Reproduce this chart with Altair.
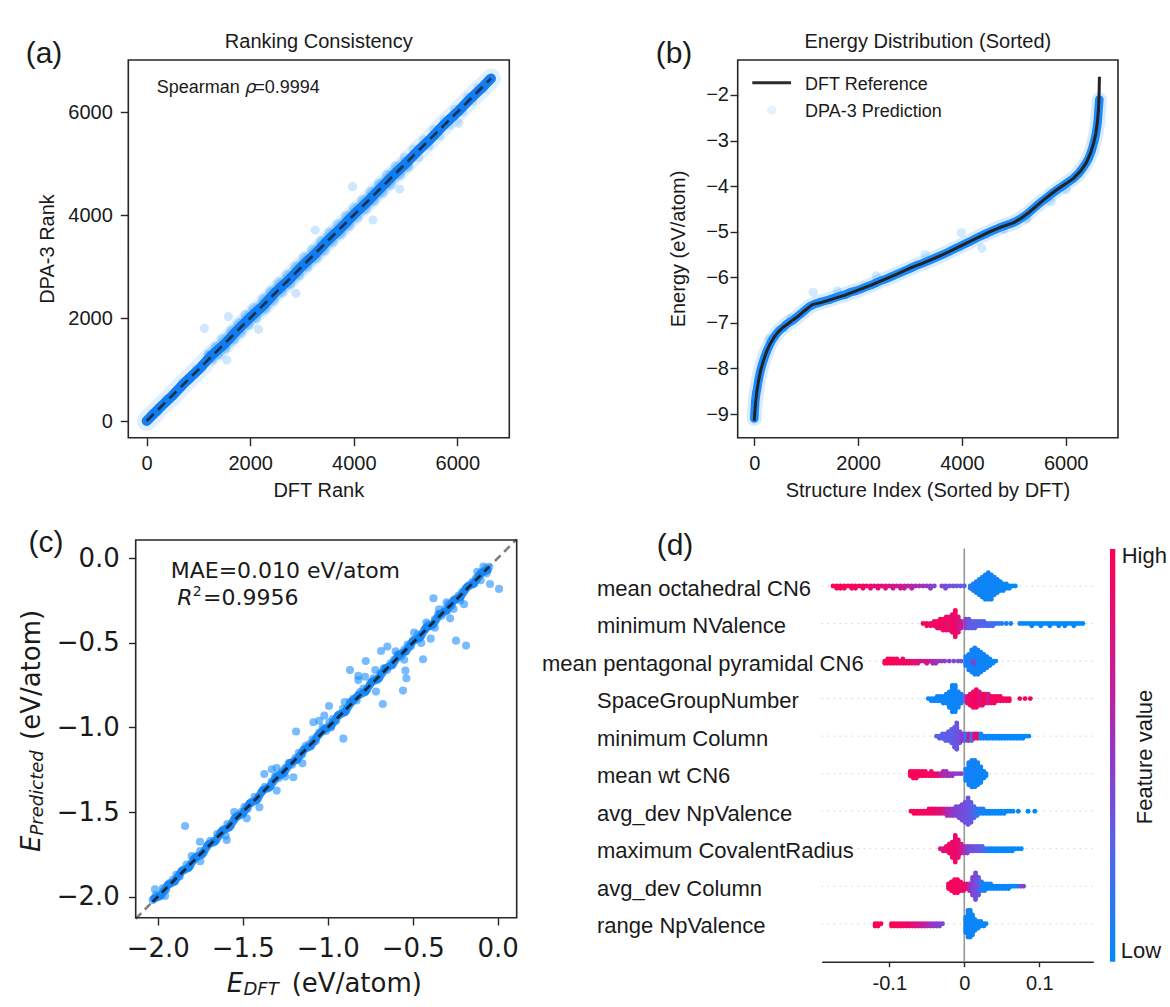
import altair as alt
import pandas as pd

W, H = 1170, 1007
SANS = "Liberation Sans"
DEJA = "DejaVu Sans"
INK = "#1a1a1a"
SPINE = "#262626"
BLUE = "#1e90ff"

# ======================= DATA =======================
# (a) Ranking consistency: DFT rank vs DPA-3 rank
A_CORE_DFT = [0, 250, 500, 750, 1000, 1250, 1500, 1750, 2000, 2250, 2500, 2750, 3000, 3250,
              3500, 3750, 4000, 4250, 4500, 4750, 5000, 5250, 5500, 5750, 6000, 6250, 6500, 6650]
A_CORE_DPA = [0, 255, 495, 760, 995, 1270, 1490, 1765, 2010, 2240, 2515, 2745, 3010, 3240,
              3510, 3745, 4010, 4245, 4505, 4760, 4995, 5255, 5495, 5760, 5995, 6255, 6495, 6650]
A_HALO_DFT = [100, 220, 380, 520, 680, 820, 960, 1080, 1114, 1180, 1260, 1320, 1390, 1450, 1520,
              1547, 1579, 1620, 1700, 1760, 1830, 1900, 1980, 2050, 2120, 2159, 2230, 2300, 2380,
              2460, 2540, 2620, 2700, 2780, 2860, 2882, 2950, 3030, 3110, 3190, 3255, 3280, 3360,
              3440, 3520, 3600, 3680, 3760, 3840, 3920, 3977, 4000, 4080, 4160, 4240, 4320, 4371,
              4400, 4480, 4560, 4640, 4720, 4800, 4886, 4900, 4980, 5060, 5150, 5250, 5350, 5450,
              5550, 5650, 5750, 5850, 5950, 6027, 6100, 6200, 6300, 6400, 6500, 6600]
A_HALO_DPA = [140, 190, 420, 490, 730, 790, 1010, 1040, 1800, 1290, 1170, 1450, 1280, 1600, 1400,
              1184, 2025, 1760, 1580, 1900, 1700, 2060, 1860, 2200, 1990, 1780, 2380, 2170, 2520,
              2330, 2700, 2490, 2850, 2650, 3010, 2480, 2820, 3190, 2980, 3340, 3709, 3150, 3500,
              3300, 3670, 3460, 3830, 3620, 3990, 3780, 4550, 4150, 3940, 4300, 4100, 4460, 3903,
              4270, 4620, 4420, 4790, 4580, 4950, 4505, 4770, 5120, 4930, 5280, 5120, 5460, 5340,
              5660, 5540, 5850, 5750, 6050, 5780, 6010, 6290, 6220, 6470, 6440, 6640]
A_DIAG = [0, 6650]

# (b) Energy distribution (sorted by DFT)
B_IDX = [0, 10, 25, 50, 80, 120, 170, 230, 300, 380, 460, 550, 650, 750, 850, 950, 1050, 1120,
         1300, 1500, 1750, 2000, 2250, 2500, 2750, 3000, 3250, 3500, 3750, 4000, 4250, 4500,
         4750, 5000, 5150, 5300, 5450, 5600, 5800, 6000, 6150, 6300, 6400, 6480, 6540, 6580,
         6610, 6630, 6640, 6645, 6650]
B_E_DFT = [-9.15, -8.95, -8.75, -8.5, -8.28, -8.05, -7.85, -7.65, -7.47, -7.32, -7.2, -7.1,
           -7.02, -6.93, -6.85, -6.75, -6.66, -6.6, -6.55, -6.48, -6.39, -6.28, -6.17, -6.05,
           -5.93, -5.8, -5.69, -5.57, -5.44, -5.3, -5.16, -5.02, -4.9, -4.8, -4.7, -4.57, -4.42,
           -4.28, -4.1, -3.95, -3.83, -3.65, -3.48, -3.27, -3.05, -2.85, -2.6, -2.35, -2.1,
           -1.9, -1.6]
B_PRED_IDX = [0, 5, 12, 20, 30, 40, 55, 70, 90, 110, 135, 160, 190, 220, 260, 300, 340, 390,
              440, 500, 560, 620, 690, 760, 830, 900, 970, 1040, 1100, 1180, 1260, 1350, 1450,
              1550, 1650, 1750, 1850, 1950, 2050, 2150, 2250, 2350, 2450, 2550, 2650, 2750, 2850,
              2950, 3050, 3150, 3250, 3350, 3450, 3550, 3650, 3750, 3850, 3950, 4050, 4150, 4250,
              4350, 4450, 4550, 4650, 4750, 4850, 4950, 5050, 5150, 5250, 5350, 5450, 5550, 5650,
              5750, 5850, 5950, 6050, 6150, 6250, 6330, 6400, 6450, 6500, 6530, 6560, 6580, 6600,
              6615, 6625, 6635, 6642, 6648]
B_PRED_E = [-9.1, -8.95, -8.85, -8.7, -8.62, -8.52, -8.45, -8.33, -8.2, -8.1, -7.98, -7.88,
            -7.78, -7.68, -7.57, -7.47, -7.38, -7.3, -7.22, -7.15, -7.1, -7.03, -6.98, -6.93,
            -6.86, -6.8, -6.73, -6.66, -6.62, -6.58, -6.55, -6.52, -6.49, -6.45, -6.41, -6.38,
            -6.33, -6.3, -6.26, -6.21, -6.17, -6.12, -6.07, -6.03, -5.98, -5.93, -5.88, -5.83,
            -5.78, -5.73, -5.69, -5.64, -5.59, -5.54, -5.49, -5.44, -5.38, -5.33, -5.27, -5.22,
            -5.16, -5.1, -5.05, -5.0, -4.95, -4.9, -4.86, -4.82, -4.77, -4.7, -4.62, -4.52,
            -4.42, -4.33, -4.24, -4.15, -4.07, -3.99, -3.91, -3.83, -3.72, -3.6, -3.48, -3.37,
            -3.22, -3.1, -2.97, -2.86, -2.72, -2.6, -2.45, -2.3, -2.2, -2.1]
B_OUT_IDX = [300, 700, 1135, 1600, 2350, 3290, 3988, 4385, 4800, 5250, 5720, 6010]
B_OUT_E = [-7.35, -6.9, -6.33, -6.3, -5.97, -5.5, -5.02, -5.36, -4.95, -4.72, -4.34, -4.08]

# (c) Parity plot
C_DFT = [-2.03, -2.01, -1.99, -1.97, -1.95, -1.93, -1.91, -1.89, -1.87, -1.85, -1.83, -1.81,
         -1.79, -1.77, -1.75, -1.73, -1.71, -1.69, -1.67, -1.65, -1.63, -1.61, -1.59, -1.57,
         -1.55, -1.53, -1.51, -1.49, -1.47, -1.45, -1.43, -1.41, -1.39, -1.37, -1.35, -1.33,
         -1.31, -1.29, -1.27, -1.25, -1.23, -1.21, -1.19, -1.17, -1.15, -1.13, -1.11, -1.09,
         -1.07, -1.05, -1.03, -1.01, -0.99, -0.97, -0.95, -0.93, -0.91, -0.89, -0.87, -0.85,
         -0.83, -0.81, -0.79, -0.77, -0.75, -0.73, -0.71, -0.69, -0.67, -0.65, -0.63, -0.61,
         -0.59, -0.57, -0.55, -0.53, -0.51, -0.49, -0.47, -0.45, -0.43, -0.41, -0.39, -0.37,
         -0.35, -0.33, -0.31, -0.29, -0.27, -0.25, -0.23, -0.21, -0.19, -0.17, -0.15, -0.13,
         -0.11, -0.09, -0.07, -0.05,
         -1.839, -1.594, -1.751, -1.957, -2.016, -1.476, -1.402, -1.373, -1.329, -1.202, -1.300,
         -1.186, -1.149, -1.084, -0.992, -0.908, -0.869, -0.776, -0.820, -0.716, -0.676, -0.686,
         -0.649, -0.557, -0.543, -0.537, -0.439, -0.378, -0.280, -0.245, -0.186, -0.198, -0.065,
         -0.045, 0.008, -0.084, -0.492, -0.394, -0.345,
         -1.05, -1.02, -0.98, -0.90, -0.82, -0.78, -0.72, -0.60, -0.55, -0.45, -0.42, -0.37,
         -0.30, -0.26, -0.22, -0.12, -0.10, -1.30, -1.25, -1.55, -1.60, -1.80, -1.75]
C_PRED = [-2.02, -1.99, -2.0, -1.95, -1.96, -1.92, -1.9, -1.87, -1.88, -1.84, -1.81, -1.82,
          -1.78, -1.76, -1.73, -1.74, -1.7, -1.67, -1.68, -1.63, -1.62, -1.6, -1.57, -1.58,
          -1.54, -1.52, -1.5, -1.47, -1.48, -1.44, -1.41, -1.42, -1.38, -1.35, -1.36, -1.32,
          -1.29, -1.3, -1.26, -1.24, -1.21, -1.22, -1.18, -1.15, -1.16, -1.11, -1.1, -1.07,
          -1.08, -1.03, -1.0, -1.02, -0.97, -0.95, -0.96, -0.92, -0.89, -0.9, -0.85, -0.83,
          -0.84, -0.79, -0.77, -0.78, -0.74, -0.71, -0.72, -0.68, -0.65, -0.66, -0.62, -0.6,
          -0.57, -0.58, -0.54, -0.51, -0.52, -0.48, -0.45, -0.46, -0.42, -0.39, -0.4, -0.36,
          -0.33, -0.34, -0.3, -0.27, -0.28, -0.24, -0.22, -0.2, -0.18, -0.16, -0.14, -0.12,
          -0.1, -0.08, -0.06, -0.05,
          -1.582, -1.665, -1.675, -1.996, -1.956, -1.537, -1.472, -1.275, -1.247, -1.294, -1.373,
          -1.024, -1.212, -0.969, -0.873, -1.066, -0.660, -0.607, -0.695, -0.788, -0.861, -0.548,
          -0.522, -0.782, -0.664, -0.709, -0.597, -0.236, -0.355, -0.487, -0.516, -0.272, -0.089,
          -0.152, -0.181, -0.049, -0.439, -0.475, -0.301,
          -0.96, -0.93, -1.0, -0.85, -0.72, -0.70, -0.66, -0.55, -0.60, -0.50, -0.38, -0.41,
          -0.26, -0.30, -0.25, -0.08, -0.13, -1.24, -1.29, -1.50, -1.64, -1.76, -1.79]
# second, denser set of structures lying close to the diagonal
C_DFT_2 = [-2.02, -1.98, -1.94, -1.90, -1.86, -1.82, -1.78, -1.74, -1.70, -1.66, -1.62, -1.58,
           -1.54, -1.50, -1.46, -1.42, -1.38, -1.34, -1.30, -1.26, -1.22, -1.18, -1.14, -1.10,
           -1.06, -1.02, -0.98, -0.94, -0.90, -0.86, -0.82, -0.78, -0.74, -0.70, -0.66, -0.62,
           -0.58, -0.54, -0.50, -0.46, -0.42, -0.38, -0.34, -0.30, -0.26, -0.22, -0.18, -0.14,
           -0.10, -0.06]
C_PRED_2 = [-2.01, -1.99, -1.93, -1.91, -1.85, -1.83, -1.77, -1.75, -1.69, -1.67, -1.61, -1.59,
            -1.53, -1.51, -1.45, -1.43, -1.37, -1.35, -1.29, -1.27, -1.21, -1.19, -1.13, -1.11,
            -1.05, -1.01, -0.99, -0.93, -0.91, -0.85, -0.81, -0.79, -0.73, -0.71, -0.65, -0.63,
            -0.57, -0.55, -0.49, -0.47, -0.41, -0.39, -0.33, -0.31, -0.25, -0.23, -0.17, -0.15,
            -0.09, -0.07]
C_DIAG = [-2.13, 0.112]
C_FIT = [-2.03, -0.05]

# (d) SHAP beeswarm: per feature -> SHAP value, normalised feature value, number of dots
D_FEATURES = ["mean octahedral CN6", "minimum NValence", "mean pentagonal pyramidal CN6",
              "SpaceGroupNumber", "minimum Column", "mean wt CN6", "avg_dev NpValence",
              "maximum CovalentRadius", "avg_dev Column", "range NpValence"]

F0_SHAP = [-0.175, -0.170, -0.165, -0.160, -0.155, -0.150, -0.145, -0.140, -0.135, -0.130, -0.125,
           -0.120, -0.115, -0.110, -0.105, -0.100, -0.095, -0.090, -0.085, -0.080, -0.075, -0.070,
           -0.065, -0.060, -0.055, -0.050, -0.045, -0.040, -0.030, -0.025, -0.020, -0.015, -0.010,
           -0.005, 0.000, 0.008, 0.012, 0.016, 0.020, 0.024, 0.028, 0.032, 0.036, 0.040, 0.044,
           0.048, 0.052, 0.056, 0.060, 0.064, 0.068]
F0_FV = [0.98, 0.97, 0.99, 0.95, 0.97, 0.96, 0.93, 0.95, 0.92, 0.90, 0.88, 0.90, 0.85, 0.82, 0.80,
         0.78, 0.75, 0.72, 0.70, 0.68, 0.66, 0.62, 0.60, 0.58, 0.55, 0.50, 0.48, 0.45, 0.42, 0.40,
         0.38, 0.36, 0.35, 0.33, 0.30, 0.12, 0.10, 0.08, 0.06, 0.05, 0.04, 0.05, 0.06, 0.05, 0.04,
         0.03, 0.03, 0.02, 0.02, 0.02, 0.01]
F0_N = [1, 2, 2, 2, 1, 2, 2, 1, 2, 1, 2, 1, 2, 1, 2, 1, 2, 1, 2, 2, 1, 2, 1, 1, 1, 1, 2, 1, 1, 2,
        1, 1, 1, 1, 1, 2, 4, 6, 8, 10, 12, 13, 12, 9, 7, 5, 4, 3, 2, 1, 1]

F1_SHAP = [-0.055, -0.050, -0.045, -0.040, -0.036, -0.032, -0.028, -0.024, -0.020, -0.016, -0.012,
           -0.008, -0.004, 0.002, 0.006, 0.010, 0.014, 0.018, 0.022, 0.026, 0.030, 0.034, 0.038,
           0.042, 0.046, 0.050, 0.056, 0.062, 0.074, 0.078, 0.082, 0.086, 0.090, 0.094, 0.098,
           0.102, 0.106, 0.110, 0.114, 0.118, 0.122, 0.126, 0.130, 0.134, 0.138, 0.142, 0.146,
           0.150, 0.154, 0.158]
F1_FV = [0.95, 0.92, 0.90, 0.93, 0.88, 0.95, 0.90, 0.92, 0.85, 0.88, 0.93, 0.80, 0.70, 0.45, 0.35,
         0.30, 0.32, 0.28, 0.30, 0.25, 0.27, 0.22, 0.20, 0.18, 0.15, 0.10, 0.08, 0.06, 0.04, 0.03,
         0.03, 0.02, 0.03, 0.02, 0.02, 0.01, 0.02, 0.01, 0.02, 0.01, 0.01, 0.02, 0.01, 0.01, 0.0,
         0.01, 0.0, 0.01, 0.0, 0.0]
F1_N = [1, 2, 2, 3, 4, 5, 6, 7, 7, 9, 13, 8, 4, 5, 5, 4, 4, 3, 3, 3, 2, 2, 2, 1, 1, 1, 1, 1, 1, 1,
        1, 1, 2, 1, 1, 2, 1, 1, 2, 1, 1, 2, 1, 2, 1, 1, 2, 1, 1, 1]

F2_SHAP = [-0.106, -0.102, -0.098, -0.094, -0.090, -0.086, -0.082, -0.078, -0.074, -0.070, -0.066,
           -0.062, -0.058, -0.054, -0.050, -0.046, -0.042, -0.038, -0.034, -0.030, -0.026, -0.020,
           -0.014, -0.008, -0.004, 0.002, 0.006, 0.010, 0.014, 0.018, 0.022, 0.026, 0.030, 0.034,
           0.038, 0.042, 0.012]
F2_FV = [0.97, 0.99, 0.95, 0.97, 0.93, 0.96, 0.92, 0.90, 0.88, 0.90, 0.85, 0.82, 0.80, 0.78, 0.75,
         0.70, 0.60, 0.55, 0.58, 0.50, 0.45, 0.48, 0.40, 0.42, 0.35, 0.10, 0.08, 0.06, 0.05, 0.06,
         0.05, 0.04, 0.05, 0.04, 0.03, 0.02, 0.45]
F2_N = [2, 3, 3, 3, 3, 2, 3, 2, 2, 2, 2, 2, 1, 1, 2, 1, 2, 2, 1, 1, 1, 1, 1, 1, 1, 5, 8, 11, 13,
        12, 10, 8, 6, 4, 2, 1, 2]

F3_SHAP = [-0.048, -0.044, -0.040, -0.036, -0.032, -0.028, -0.024, -0.020, -0.016, -0.012, -0.008,
           -0.004, 0.000, 0.004, 0.008, 0.012, 0.016, 0.020, 0.024, 0.028, 0.032, 0.036, 0.040,
           0.044, 0.048, 0.052, 0.056, 0.060, 0.074, 0.081, 0.088]
F3_FV = [0.05, 0.03, 0.05, 0.02, 0.04, 0.03, 0.02, 0.05, 0.03, 0.04, 0.06, 0.08, 0.30, 0.85, 0.90,
         0.92, 0.95, 0.80, 0.90, 0.95, 0.70, 0.90, 0.96, 0.93, 0.90, 0.95, 0.92, 0.97, 0.95, 0.97,
         0.98]
F3_N = [1, 2, 2, 3, 3, 4, 5, 8, 13, 13, 8, 5, 3, 4, 6, 8, 9, 7, 6, 5, 5, 4, 4, 3, 3, 2, 2, 2, 1,
        1, 1]

F4_SHAP = [-0.037, -0.033, -0.029, -0.025, -0.021, -0.017, -0.013, -0.010, -0.006, -0.002, 0.002,
           0.006, 0.010, 0.014, 0.018, 0.022, 0.026, 0.030, 0.034, 0.038, 0.042, 0.046, 0.050,
           0.054, 0.058, 0.062, 0.066, 0.070, 0.074, 0.078, 0.082, 0.086]
F4_FV = [0.30, 0.32, 0.28, 0.30, 0.33, 0.30, 0.32, 0.35, 0.40, 0.50, 0.15, 0.70, 0.20, 0.85, 0.90,
         0.05, 0.03, 0.04, 0.02, 0.03, 0.02, 0.03, 0.02, 0.03, 0.02, 0.01, 0.02, 0.01, 0.02, 0.01,
         0.02, 0.01]
F4_N = [1, 2, 3, 4, 5, 7, 10, 13, 6, 4, 4, 4, 4, 3, 3, 3, 2, 2, 2, 2, 2, 2, 2, 2, 2, 2, 2, 2, 2,
        2, 1, 1]

F5_SHAP = [-0.072, -0.068, -0.064, -0.060, -0.056, -0.052, -0.048, -0.044, -0.040, -0.036, -0.032,
           -0.028, -0.024, -0.020, -0.016, -0.012, -0.008, -0.004, 0.002, 0.006, 0.010, 0.014,
           0.018, 0.022, 0.026, 0.029]
F5_FV = [0.97, 0.98, 0.95, 0.96, 0.93, 0.95, 0.92, 0.90, 0.93, 0.88, 0.70, 0.60, 0.55, 0.58, 0.50,
         0.55, 0.45, 0.50, 0.08, 0.06, 0.05, 0.06, 0.05, 0.04, 0.05, 0.03]
F5_N = [3, 4, 4, 3, 3, 3, 2, 3, 2, 2, 2, 3, 3, 2, 2, 1, 1, 1, 6, 11, 13, 13, 11, 8, 4, 2]

F6_SHAP = [-0.071, -0.067, -0.063, -0.059, -0.055, -0.051, -0.047, -0.043, -0.039, -0.035, -0.031,
           -0.027, -0.023, -0.019, -0.015, -0.011, -0.007, -0.003, 0.001, 0.005, 0.009, 0.013,
           0.017, 0.021, 0.025, 0.029, 0.033, 0.037, 0.041, 0.045, 0.049, 0.053, 0.057, 0.061,
           0.065, 0.072, 0.085, 0.094]
F6_FV = [0.97, 0.95, 0.98, 0.93, 0.95, 0.92, 0.90, 0.93, 0.88, 0.85, 0.80, 0.75, 0.60, 0.55, 0.50,
         0.45, 0.42, 0.40, 0.38, 0.35, 0.33, 0.25, 0.15, 0.10, 0.08, 0.05, 0.04, 0.03, 0.04, 0.02,
         0.03, 0.02, 0.02, 0.01, 0.02, 0.01, 0.0, 0.0]
F6_N = [1, 2, 2, 2, 2, 2, 3, 3, 3, 3, 3, 3, 4, 4, 4, 5, 6, 8, 10, 13, 10, 6, 4, 3, 3, 2, 2, 2, 2,
        2, 2, 2, 1, 1, 1, 1, 1, 1]

F7_SHAP = [-0.032, -0.028, -0.024, -0.020, -0.016, -0.012, -0.008, -0.004, 0.000, 0.004, 0.008,
           0.012, 0.016, 0.020, 0.024, 0.028, 0.032, 0.036, 0.040, 0.044, 0.048, 0.052, 0.056,
           0.060, 0.064, 0.068, 0.072, 0.076]
F7_FV = [0.75, 0.80, 0.85, 0.90, 0.88, 0.92, 0.85, 0.75, 0.60, 0.45, 0.40, 0.38, 0.35, 0.33, 0.30,
         0.20, 0.05, 0.04, 0.03, 0.04, 0.02, 0.03, 0.02, 0.02, 0.01, 0.02, 0.01, 0.02]
F7_N = [1, 2, 3, 5, 8, 13, 9, 5, 4, 4, 3, 3, 3, 3, 3, 2, 2, 2, 2, 2, 2, 2, 2, 2, 2, 1, 1, 1]

F8_SHAP = [-0.021, -0.017, -0.013, -0.009, -0.005, -0.001, 0.003, 0.007, 0.011, 0.015, 0.019,
           0.023, 0.027, 0.031, 0.035, 0.039, 0.043, 0.047, 0.051, 0.055, 0.059, 0.063, 0.067,
           0.071, 0.075, 0.079]
F8_FV = [0.95, 0.97, 0.93, 0.95, 0.92, 0.90, 0.85, 0.60, 0.45, 0.40, 0.35, 0.10, 0.05, 0.04, 0.03,
         0.02, 0.03, 0.02, 0.03, 0.02, 0.02, 0.01, 0.02, 0.01, 0.40, 0.45]
F8_N = [3, 5, 7, 7, 5, 4, 3, 4, 9, 13, 9, 5, 4, 3, 3, 2, 2, 2, 2, 2, 2, 1, 1, 1, 1, 1]

F9_SHAP = [-0.119, -0.115, -0.111, -0.097, -0.093, -0.089, -0.085, -0.081, -0.077, -0.073, -0.069,
           -0.065, -0.061, -0.057, -0.053, -0.049, -0.045, -0.041, -0.037, -0.033, -0.029, 0.002,
           0.005, 0.008, 0.011, 0.014, 0.018, 0.022, 0.026, 0.029]
F9_FV = [0.98, 0.97, 0.99, 0.95, 0.97, 0.93, 0.95, 0.90, 0.92, 0.88, 0.85, 0.80, 0.75, 0.70, 0.65,
         0.60, 0.55, 0.50, 0.48, 0.45, 0.42, 0.05, 0.04, 0.05, 0.04, 0.03, 0.04, 0.03, 0.02, 0.02]
F9_N = [2, 2, 1, 2, 2, 2, 2, 2, 2, 2, 2, 2, 2, 2, 2, 2, 2, 2, 2, 2, 1, 8, 13, 13, 10, 6, 4, 3, 2, 1]

D_ROWS = [(F0_SHAP, F0_FV, F0_N), (F1_SHAP, F1_FV, F1_N), (F2_SHAP, F2_FV, F2_N),
          (F3_SHAP, F3_FV, F3_N), (F4_SHAP, F4_FV, F4_N), (F5_SHAP, F5_FV, F5_N),
          (F6_SHAP, F6_FV, F6_N), (F7_SHAP, F7_FV, F7_N), (F8_SHAP, F8_FV, F8_N),
          (F9_SHAP, F9_FV, F9_N)]
SHAP_COLORS = ["#008bfb", "#5b60e9", "#9138c8", "#cc1a92", "#ff0051"]
SHAP_STOPS = [0.0, 0.3, 0.5, 0.7, 1.0]

# ======================= LAYOUT (pixels) =======================
BOX_A = (128.3, 509.3, 60.0, 437.7)
BOX_B = (737.7, 1118.0, 60.0, 437.7)
BOX_C = (135.7, 516.7, 540.0, 917.7)
BOX_D = (821.7, 1093.3, 548.5, 961.3)
D_AXIS_Y = 961.7
STEP = 0.0587  # beeswarm vertical step (row units)

one = pd.DataFrame({"k": [0]})


def axis(orient, offset, values, fmt=None, font=SANS, size=20, tick=8, pad=8, domain=False, expr=None):
    kw = dict(orient=orient, offset=offset, values=values, title=None, grid=False, domain=domain,
              ticks=True, tickSize=tick, tickWidth=1.4, tickColor=SPINE, labelFont=font,
              labelFontSize=size, labelColor=INK, labelPadding=pad, labelFlush=False,
              labelOverlap=False)
    if fmt:
        kw["format"] = fmt
    if expr:
        kw["labelExpr"] = expr
    if domain:
        kw["domainColor"] = SPINE
        kw["domainWidth"] = 1.4
    return alt.Axis(**kw)


def txt(s, x, y, size, font=SANS, align="left", baseline="alphabetic", angle=0, style=None, color=INK):
    kw = dict(align=align, baseline=baseline, font=font, fontSize=size, color=color)
    if angle:
        kw["angle"] = angle
    if style:
        kw["fontStyle"] = style
    return alt.Chart(one).mark_text(**kw).encode(x=alt.value(x), y=alt.value(y), text=alt.value(s))


def frame(b):
    return alt.Chart(one).mark_rect(fillOpacity=0, stroke=SPINE, strokeWidth=1.6).encode(
        x=alt.value(b[0]), x2=alt.value(b[1]), y=alt.value(b[2]), y2=alt.value(b[3]))


# ---------------- panel (a) ----------------
sc_ax = alt.Scale(domain=[-355, 7004], range=[BOX_A[0], BOX_A[1]], nice=False, zero=False)
sc_ay = alt.Scale(domain=[-324, 7010], range=[BOX_A[3], BOX_A[2]], nice=False, zero=False)
ax_ax = axis("bottom", BOX_A[3] - H, [0, 2000, 4000, 6000], fmt="d", tick=8, pad=8)
ax_ay = axis("left", -BOX_A[0], [0, 2000, 4000, 6000], fmt="d", tick=8, pad=8)
xa = lambda f: alt.X(f, type="quantitative", scale=sc_ax, axis=ax_ax)
ya = lambda f: alt.Y(f, type="quantitative", scale=sc_ay, axis=ax_ay)

dfA_halo = pd.DataFrame({"dft": A_HALO_DFT, "dpa": A_HALO_DPA})
dfA_core = pd.DataFrame({"dft": A_CORE_DFT, "dpa": A_CORE_DPA})
dfA_diag = pd.DataFrame({"v": A_DIAG})
panelA = alt.layer(
    alt.Chart(dfA_core).mark_line(color=BLUE, strokeWidth=20, strokeCap="round", opacity=0.14).encode(
        x=xa("dft"), y=ya("dpa")),
    alt.Chart(dfA_core).transform_filter("datum.dft >= 1100 && datum.dft <= 5200").mark_line(
        color=BLUE, strokeWidth=15, strokeCap="round", opacity=0.3).encode(x=xa("dft"), y=ya("dpa")),
    alt.Chart(dfA_halo).mark_circle(size=85, color=BLUE, opacity=0.22).encode(x=xa("dft"), y=ya("dpa")),
    alt.Chart(dfA_core).mark_line(color="#0a78f0", strokeWidth=10, strokeCap="round", opacity=0.95).encode(
        x=xa("dft"), y=ya("dpa")),
    alt.Chart(dfA_diag).mark_line(color="#14202e", strokeWidth=2.6, strokeDash=[10, 6], opacity=0.85).encode(
        x=xa("v"), y=ya("v")),
)

# ---------------- panel (b) ----------------
sc_bx = alt.Scale(domain=[-320, 7008], range=[BOX_B[0], BOX_B[1]], nice=False, zero=False)
sc_by = alt.Scale(domain=[-9.52, -1.232], range=[BOX_B[3], BOX_B[2]], nice=False, zero=False)
ax_bx = axis("bottom", BOX_B[3] - H, [0, 2000, 4000, 6000], fmt="d", tick=7.7, pad=8)
ax_by = axis("left", -BOX_B[0], [-9, -8, -7, -6, -5, -4, -3, -2], fmt="d", tick=7.7, pad=1.5)
xb = lambda f: alt.X(f, type="quantitative", scale=sc_bx, axis=ax_bx)
yb = lambda f: alt.Y(f, type="quantitative", scale=sc_by, axis=ax_by)

dfB_ref = pd.DataFrame({"idx": B_IDX, "e": B_E_DFT})
dfB_pred = pd.DataFrame({"idx": B_PRED_IDX, "e": B_PRED_E})
dfB_out = pd.DataFrame({"idx": B_OUT_IDX, "e": B_OUT_E})
panelB = alt.layer(
    alt.Chart(dfB_pred).mark_line(color=BLUE, strokeWidth=15, strokeCap="round", opacity=0.18).encode(
        x=xb("idx"), y=yb("e")),
    alt.Chart(dfB_out).mark_circle(size=85, color=BLUE, opacity=0.2).encode(x=xb("idx"), y=yb("e")),
    alt.Chart(dfB_pred).mark_line(color="#0a7cf5", strokeWidth=8.5, strokeCap="round", opacity=0.9).encode(
        x=xb("idx"), y=yb("e")),
    alt.Chart(dfB_pred).mark_circle(size=60, color=BLUE, opacity=0.5).encode(x=xb("idx"), y=yb("e")),
    alt.Chart(dfB_ref).mark_line(color="#232323", strokeWidth=3).encode(x=xb("idx"), y=yb("e")),
)

# ---------------- panel (c) ----------------
sc_cx = alt.Scale(domain=[-2.1294, 0.1118], range=[BOX_C[0], BOX_C[1]], nice=False, zero=False)
sc_cy = alt.Scale(domain=[-2.124, 0.108], range=[BOX_C[3], BOX_C[2]], nice=False, zero=False)
ticksC = [-2.0, -1.5, -1.0, -0.5, 0.0]
ax_cx = axis("bottom", BOX_C[3] - H, ticksC, fmt=".1f", font=DEJA, size=26, tick=7.3, pad=10)
ax_cy = axis("left", -BOX_C[0], ticksC, fmt=".1f", font=DEJA, size=26, tick=7.3, pad=9)
xc = lambda f: alt.X(f, type="quantitative", scale=sc_cx, axis=ax_cx)
yc = lambda f: alt.Y(f, type="quantitative", scale=sc_cy, axis=ax_cy)

dfC = pd.DataFrame({"dft": C_DFT + C_DFT_2, "pred": C_PRED + C_PRED_2})
dfC2 = pd.DataFrame({"dft": C_DFT_2, "pred": C_PRED_2})
panelC = alt.layer(
    alt.Chart(pd.DataFrame({"v": C_DIAG})).mark_line(color="#808080", strokeWidth=2.6, strokeDash=[8, 5]).encode(
        x=xc("v"), y=yc("v")),
    alt.Chart(dfC).mark_circle(size=66, color=BLUE, opacity=0.6).encode(x=xc("dft"), y=yc("pred")),
    alt.Chart(dfC2).mark_line(color="#1282f5", strokeWidth=8, strokeCap="round", opacity=0.85).encode(
        x=xc("dft"), y=yc("pred")),
    alt.Chart(pd.DataFrame({"v": C_FIT})).mark_line(color="#111111", strokeWidth=2.8, strokeDash=[8, 5],
                                                     opacity=0.8).encode(x=xc("v"), y=yc("v")),
)

# ---------------- panel (d) ----------------
rows = []
for fi, (sv, fv, nn) in enumerate(D_ROWS):
    for s, f, n in zip(sv, fv, nn):
        rows += [{"feat": fi, "shap": s, "fv": f}] * n
dfD = pd.DataFrame(rows)
dfL = pd.DataFrame({"feat": list(range(len(D_FEATURES))), "name": D_FEATURES})

sc_dx = alt.Scale(domain=[-0.1901, 0.172], range=[BOX_D[0], BOX_D[1]], nice=False, zero=False)
sc_dy = alt.Scale(domain=[-1, 10], range=[BOX_D[2], BOX_D[3]], nice=False, zero=False)
ax_dx = axis("bottom", D_AXIS_Y - H, [-0.1, 0, 0.1], size=20, tick=5, pad=7, domain=True,
             expr="datum.value == 0 ? '0' : (datum.value < 0 ? '-' : '') + format(abs(datum.value), '.1f')")
xd = lambda f: alt.X(f, type="quantitative", scale=sc_dx, axis=ax_dx)
yd = lambda f: alt.Y(f, type="quantitative", scale=sc_dy, axis=None)

panelD = alt.layer(
    alt.Chart(dfL).mark_rule(color="#bbbbbb", strokeWidth=1, strokeDash=[1, 5]).encode(
        y=yd("feat"), x=alt.value(BOX_D[0]), x2=alt.value(BOX_D[1])),
    alt.Chart(pd.DataFrame({"z": [0.0]})).mark_rule(color="#999999", strokeWidth=1.6).encode(
        x=xd("z"), y=alt.value(BOX_D[2]), y2=alt.value(BOX_D[3])),
    alt.Chart(dfD).transform_window(
        rn="row_number()", groupby=["feat", "shap"], sort=[alt.SortField("fv", order="descending")]
    ).transform_calculate(
        yy=f"datum.feat + (datum.rn % 2 == 0 ? 1 : -1) * floor(datum.rn / 2) * {STEP}"
    ).mark_circle(size=24, opacity=1).encode(
        x=xd("shap"), y=yd("yy"),
        color=alt.Color("fv:Q", scale=alt.Scale(domain=SHAP_STOPS, range=SHAP_COLORS, interpolate="rgb"),
                        legend=None)),
    alt.Chart(dfL).transform_filter("datum.feat != 2").mark_text(
        align="left", baseline="middle", font=SANS, fontSize=22, color=INK, dy=2.5).encode(
        x=alt.value(597), y=yd("feat"), text="name:N"),
    alt.Chart(dfL).transform_filter("datum.feat == 2").mark_text(
        align="left", baseline="middle", font=SANS, fontSize=22, color=INK, dy=2.5).encode(
        x=alt.value(542), y=yd("feat"), text="name:N"),
)

colorbar = alt.Chart(one).mark_rect(
    fill=alt.LinearGradient(gradient="linear",
                            stops=[alt.GradientStop(color=c, offset=o) for c, o in zip(SHAP_COLORS, SHAP_STOPS)],
                            x1=0, x2=0, y1=1, y2=0)
).encode(x=alt.value(1110), x2=alt.value(1115.3), y=alt.value(549), y2=alt.value(961.7))

legendB = [
    alt.Chart(one).mark_rule(color="#2b2b2b", strokeWidth=3).encode(
        x=alt.value(752.3), x2=alt.value(791), y=alt.value(82.7)),
    alt.Chart(one).mark_circle(size=90, color=BLUE, opacity=0.12).encode(x=alt.value(771.7), y=alt.value(110)),
    txt("DFT Reference", 805, 90, 18),
    txt("DPA-3 Prediction", 805, 116.7, 18),
]

texts = [
    txt("(a)", 44, 63, 30, align="center"),
    txt("(b)", 674, 63, 30, align="center"),
    txt("(c)", 46, 552, 30, align="center"),
    txt("(d)", 675, 555, 30, align="center"),
    txt("Ranking Consistency", 318.8, 47.5, 20, align="center"),
    txt("Energy Distribution (Sorted)", 927.9, 47.5, 20, align="center"),
    txt("DFT Rank", 318.8, 497, 20, align="center"),
    txt("DPA-3 Rank", 53.5, 249, 20, align="center", angle=270),
    txt("Structure Index (Sorted by DFT)", 927.9, 497, 20, align="center"),
    txt("Energy (eV/atom)", 684.5, 249, 20, align="center", angle=270),
    txt("Spearman", 156.7, 92.5, 18),
    txt("ρ", 245, 92.5, 18, font=DEJA, style="italic"),
    txt("=0.9994", 254.3, 92.5, 18),
    txt("MAE=0.010 eV/atom", 170.7, 578.3, 22, font=DEJA),
    txt("R", 177.3, 605, 22, font=DEJA, style="italic"),
    txt("2", 192.7, 596, 14, font=DEJA),
    txt("=0.9956", 203, 605, 22, font=DEJA),
    txt("E", 226.7, 991.7, 26, font=DEJA, style="italic"),
    txt("DFT", 243.5, 995, 18, font=DEJA, style="italic"),
    txt("(eV/atom)", 291.7, 991.7, 26, font=DEJA),
    txt("E", 39.5, 852, 26, font=DEJA, style="italic", angle=270),
    txt("Predicted", 43, 835.5, 18, font=DEJA, style="italic", angle=270),
    txt("(eV/atom)", 39.5, 740, 26, font=DEJA, angle=270),
    txt("High", 1121.7, 563, 22),
    txt("Low", 1120.7, 958.3, 22),
    txt("Feature value", 1151.5, 757, 22, align="center", angle=270),
]

chart = alt.layer(
    panelA, panelB, panelC, panelD,
    frame(BOX_A), frame(BOX_B), frame(BOX_C),
    colorbar, *legendB, *texts,
).resolve_scale(
    x="independent", y="independent", color="independent"
).resolve_axis(
    x="independent", y="independent"
).properties(
    width=W, height=H, padding=0, autosize=alt.AutoSizeParams(type="none"), background="white"
).configure_view(stroke=None)

chart.save("out.html", embed_options={"renderer": "svg", "actions": False})
